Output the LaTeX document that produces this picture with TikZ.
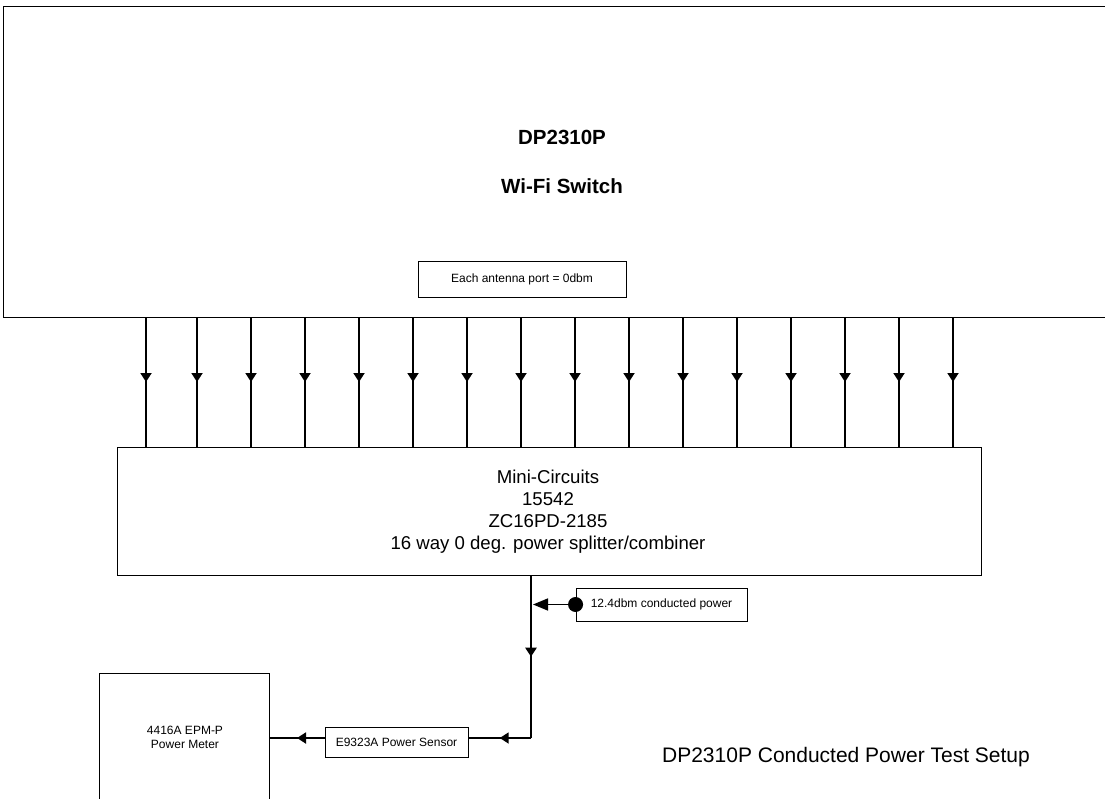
\documentclass[tikz,border=0pt]{standalone}
\usepackage{fontspec}
\setmainfont{Liberation Sans}
\usetikzlibrary{arrows.meta,decorations.markings,calc}
\begin{document}
\begin{tikzpicture}[x=1pt,y=-1pt,
  box/.style={draw, line width=0.9pt, inner sep=0pt},
  small/.style={font=\fontsize{12}{14}\selectfont, align=center},
  midarrow/.style={line width=1.8pt, postaction={decorate},
    decoration={markings, mark=at position 0.5 with {\arrow{Triangle[width=11pt,length=9pt]}}}},
  midarrowb/.style={line width=2.6pt, postaction={decorate},
    decoration={markings, mark=at position 0.5 with {\arrow{Triangle[width=11pt,length=9pt]}}}}]
\useasboundingbox (0,0) rectangle (1105,799);
% top box
\node[box, minimum width=1110pt, minimum height=311pt] (sw) at (558,161.5) {};
\node[font=\bfseries\fontsize{20.5}{24}\selectfont] (swt1) at (562,137) {DP2310P};
\node[font=\bfseries\fontsize{20.5}{24}\selectfont] (swt2) at (562,186) {Wi-Fi Switch};
\node[box, small, minimum width=208pt, minimum height=36pt] (ant) at (522,279) {Each antenna port = 0dbm};
% splitter
\node[box, minimum width=864pt, minimum height=128pt] (mc) at (549,511) {};
\node[font=\fontsize{18.6}{22}\selectfont, align=center] (mct) at (548,511.5)
  {Mini-Circuits\\15542\\ZC16PD-2185\\16 way 0 deg. power splitter/combiner};
\foreach \x in {146,197,251,305,359,413,467,521,575,629,683,737,791,845,899,953}
  \draw[midarrow] (\x,0 |- sw.south) -- (\x,0 |- mc.north);
% callout
\node[box, small, minimum width=171pt, minimum height=33pt] (cb) at (661.5,604.5) {12.4dbm conducted power};
\node[circle, fill, minimum size=15pt, inner sep=0pt] (dot) at (cb.west) {};
\coordinate (cor) at (531,738);
\draw[midarrowb] (mc.south -| cor) -- (cor);
\draw[line width=1.6pt, -{Triangle[width=12pt,length=15pt]}, shorten >=2pt] (dot) -- (dot -| cor);
% sensor and meter
\node[box, small, minimum width=143pt, minimum height=30pt] (sens) at (396.5,742) {E9323A Power Sensor};
\node[box, minimum width=170pt, minimum height=140pt] (meter) at (184,743) {};
\node[small] (metert) at (185,737) {4416A EPM-P\\Power Meter};
\draw[midarrow] (cor) -- (sens.east |- cor);
\draw[midarrow] (sens.west |- cor) -- (meter.east |- cor);
% title
\node[font=\fontsize{21}{25}\selectfont] (title) at (846,757) {DP2310P Conducted Power Test Setup};
\end{tikzpicture}
\end{document}
